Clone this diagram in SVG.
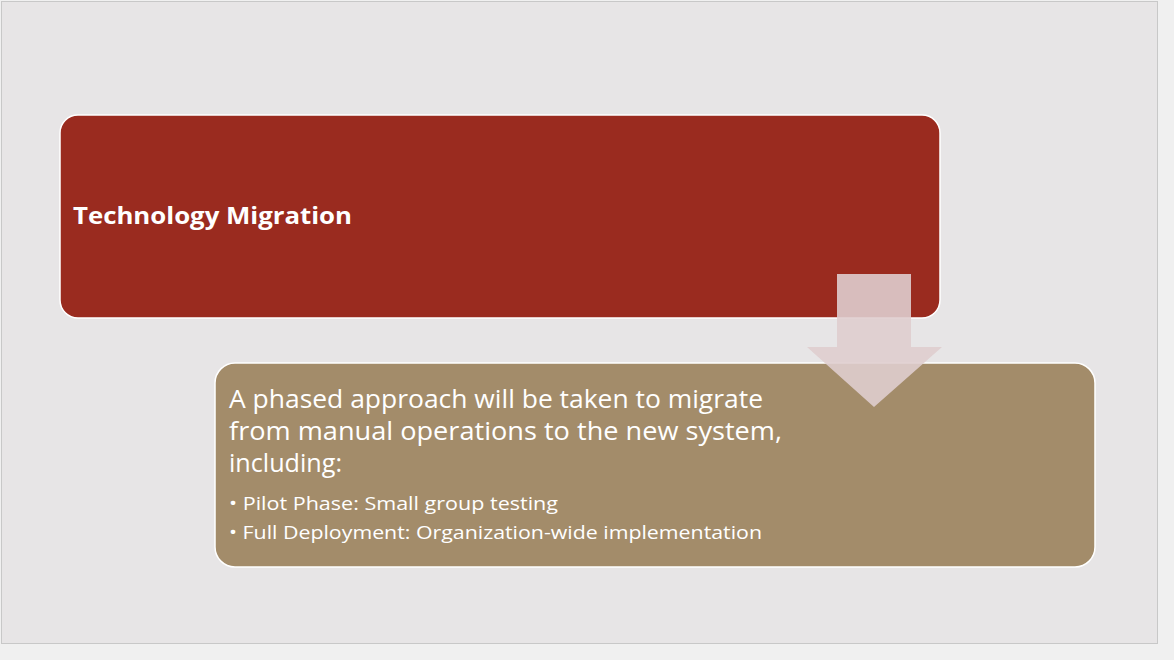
<svg xmlns="http://www.w3.org/2000/svg" width="1174" height="660" viewBox="0 0 1174 660">
<style>
.t{font-family:"Open Sans","Liberation Sans",sans-serif;fill:#FFFFFF}
.h{font-weight:bold;font-size:23px}
.b{font-size:25px}
.s{font-size:19px}
</style>
<rect x="0" y="0" width="1174" height="660" fill="#F0F0F0"/>
<rect x="1.5" y="1.5" width="1156" height="642" fill="#E7E5E6" stroke="#C8C8C8" stroke-width="1"/>
<g id="node-technology-migration">
<rect x="60" y="115" width="880" height="203" rx="18" fill="#9A2B1F" stroke="#FFFFFF" stroke-width="1.5"/>
<text class="t h" x="73" y="224" textLength="279" lengthAdjust="spacingAndGlyphs">Technology Migration</text>
</g>
<g id="node-phased-approach">
<rect x="215" y="363" width="880" height="204" rx="20" fill="#A38C6A" stroke="#FFFFFF" stroke-width="1.5"/>
<text class="t b" x="229" y="408" textLength="534" lengthAdjust="spacingAndGlyphs">A phased approach will be taken to migrate</text>
<text class="t b" x="229" y="440" textLength="553" lengthAdjust="spacingAndGlyphs">from manual operations to the new system,</text>
<text class="t b" x="229" y="472" textLength="113" lengthAdjust="spacingAndGlyphs">including:</text>
<text class="t s" x="229" y="510" textLength="329" lengthAdjust="spacingAndGlyphs">• Pilot Phase: Small group testing</text>
<text class="t s" x="229" y="539" textLength="533" lengthAdjust="spacingAndGlyphs">• Full Deployment: Organization-wide implementation</text>
</g>
<g id="connectors">
<polygon points="837,274 911,274 911,347 942,347 874,407 807,347 837,347" fill="#DFCDCE" fill-opacity="0.9"/>
</g>
</svg>
